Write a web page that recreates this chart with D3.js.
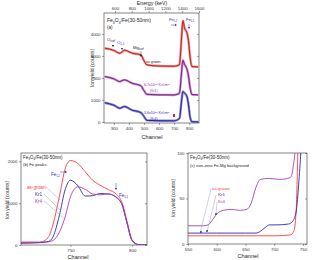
<!DOCTYPE html>
<html><head><meta charset="utf-8">
<script src="https://cdn.jsdelivr.net/npm/d3@7/dist/d3.min.js"></script>
<style>
body{margin:0;background:#fff}
svg{display:block;font-family:"Liberation Sans",Arial,sans-serif}
</style>
</head><body>
<svg id="chart" width="313" height="260"></svg>
<script>
// (a) full RBS spectra
var chA      = [240, 300, 340, 355, 370, 420, 480, 500, 520, 600, 700, 735, 750, 758, 770, 785, 795, 805, 818, 860];
var aAsGrown = [3350,3250,3120,3180,3260,3130,3040,2780,2590,2540,2530,2600,3900,4600,4250,4050,3700,3000,2520,2500];
var aKr1     = [2060,1960,1830,1880,1910,1760,1640,1420,1250,1230,1225,1300,2300,2800,2600,2400,2100,1600,1240,1230];
var aKr4     = [870, 760, 620, 660, 700, 540, 420, 250, 70,  55,  50,  150, 1000,1380,1300,1150,800, 250, 10,  0];
var tickA = [300, 400, 500, 600, 700, 800];
var tickAy = [0, 1000, 2000, 3000, 4000];
var tickEnergy = [600, 800, 1000, 1200, 1400, 1600];

// (b) Fe peaks
var chB      = [710, 725, 732, 736, 741, 746, 750, 756, 762, 768, 774, 781, 787, 792, 796, 800, 805, 812];
var bAsGrown = [40,  60,  180, 500, 1150,1850,2020,1950,1750,1550,1430,1320,1220,1000,550, 120, 10,  5];
var bKr1     = [50,  55,  80,  200, 700, 1350,1550,1420,1170,1180,1230,1220,1140,950, 500, 100, 10,  5];
var bKr4     = [70,  70,  75,  110, 300, 700, 1150,1390,1330,1220,1200,1220,1150,950, 500, 100, 10,  5];
var tickB = [750, 800];
var tickBy = [0, 1000, 2000];

// (c) background region
var chCAsGrown = [550, 600, 650, 700, 728, 734, 738, 741, 744];
var cAsGrown   = [9,   9,   9,   9,   10,  14,  35,  100, 200];
var chCKr1     = [550, 600, 650, 668, 676, 684, 692, 705, 725, 732, 738, 743, 747, 752];
var cKr1       = [12,  12,  12,  12,  14,  18,  21,  21,  22,  25,  35,  70,  110, 200];
var chCKr4     = [550, 575, 585, 592, 600, 612, 625, 640, 652, 660, 668, 676, 690, 710, 728, 733, 737, 742];
var cKr4       = [20,  20,  21,  26,  33,  37,  38,  37,  38,  45,  62,  71,  72,  71,  73,  85,  110, 200];
var tickC = [550, 600, 650, 700, 750];
var tickCy = [0, 50, 100];

var svg = d3.select("#chart");
var defs = svg.append("defs");
var clipN = 0;
var fmt = d3.format("d");

function styleAxis(a){
	a.select(".domain").remove();
	a.selectAll("text").attr("font-size", 4.4).attr("fill", "#333");
	a.selectAll("line").attr("stroke", "#444").attr("stroke-width", 0.5);
}

function panel(x0, y0, x1, y1, xDom, yDom, xt, yt){
	var x = d3.scaleLinear().domain(xDom).range([x0, x1]);
	var y = d3.scaleLinear().domain(yDom).range([y1, y0]);
	var id = "clip" + (clipN++);
	defs.append("clipPath").attr("id", id).append("rect")
		.attr("x", x0).attr("y", y0).attr("width", x1 - x0).attr("height", y1 - y0);
	var g = svg.append("g");
	styleAxis(g.append("g").attr("transform", "translate(0," + y1 + ")")
		.call(d3.axisBottom(x).tickValues(xt).tickFormat(fmt).tickSize(2).tickPadding(1.5)));
	styleAxis(g.append("g").attr("transform", "translate(" + x0 + ",0)")
		.call(d3.axisLeft(y).tickValues(yt).tickFormat(fmt).tickSize(2).tickPadding(1.5)));
	styleAxis(g.append("g").attr("transform", "translate(" + x1 + ",0)")
		.call(d3.axisRight(y).tickValues(yt).tickSize(-2).tickFormat("")));
	g.append("rect").attr("x", x0).attr("y", y0).attr("width", x1 - x0).attr("height", y1 - y0)
		.attr("fill", "none").attr("stroke", "#333").attr("stroke-width", 0.6);
	var plot = g.append("g").attr("clip-path", "url(#" + id + ")");
	return {g: g, plot: plot, x: x, y: y};
}

function curve(p, xs, ys, color, w, op){
	var line = d3.line().x(function(d){ return p.x(d[0]); }).y(function(d){ return p.y(d[1]); })
		.curve(d3.curveMonotoneX);
	p.plot.append("path").attr("d", line(d3.zip(xs, ys)))
		.attr("fill", "none").attr("stroke", color).attr("stroke-width", w).attr("opacity", op || 1);
}

// text with sub/sup parts: [["Fe"],["3","sub"],...]
function rich(x, y, parts, color, size, anchor){
	var t = svg.append("text").attr("x", x).attr("y", y).attr("fill", color)
		.attr("font-size", size).attr("text-anchor", anchor || "start");
	parts.forEach(function(pt){
		var s = t.append("tspan").text(pt[0]);
		if (pt[1] == "sub") s.attr("font-size", size * 0.7).attr("dy", size * 0.3);
		else if (pt[1] == "sup") s.attr("font-size", size * 0.7).attr("dy", -size * 0.4);
		if (pt[2]) s.attr("dy", pt[2]);
	});
	return t;
}
function fe3o4(x, y, size){
	return rich(x, y, [["Fe"], ["3", "sub"], ["O", "", -size * 0.3], ["4", "sub"], ["/Fe(30-50nm)", "", -size * 0.3]], "#222", size);
}
function seg(x1, y1, x2, y2, color, w){
	svg.append("line").attr("x1", x1).attr("y1", y1).attr("x2", x2).attr("y2", y2)
		.attr("stroke", color).attr("stroke-width", w || 0.5);
}
function arrowHead(x, y, dir, color){
	var pts = dir == "down" ? [[x - 1.2, y - 2], [x + 1.2, y - 2], [x, y]]
		: [[x - 2, y - 1.2], [x - 2, y + 1.2], [x, y]];
	svg.append("path").attr("d", "M" + pts.join("L") + "Z").attr("fill", color);
}
function yTitle(x, y, txt){
	svg.append("text").attr("transform", "translate(" + x + "," + y + ") rotate(-90)")
		.attr("text-anchor", "middle").attr("font-size", 5).attr("fill", "#333").text(txt);
}
function xTitle(x, y, txt, size){
	svg.append("text").attr("x", x).attr("y", y).attr("text-anchor", "middle")
		.attr("font-size", size || 5.6).attr("fill", "#222").text(txt);
}

// ---------- panel (a)
var pa = panel(104, 13, 199, 123, [235, 865], [-50, 4950], tickA, tickAy);
var eScale = d3.scaleLinear().domain([469, 1600]).range([104, 199]);
styleAxis(pa.g.append("g").attr("transform", "translate(0,13)")
	.call(d3.axisTop(eScale).tickValues(tickEnergy).tickFormat(fmt).tickSize(2).tickPadding(1)));
curve(pa, chA, aAsGrown, "#f07070", 2.4, 0.8);
curve(pa, chA, aAsGrown, "#b00000", 0.8);
curve(pa, chA, aKr1, "#c070c8", 2.4, 0.8);
curve(pa, chA, aKr1, "#600070", 0.8);
curve(pa, chA, aKr4, "#6a6ad8", 2.4, 0.8);
curve(pa, chA, aKr4, "#101070", 0.8);
xTitle(152, 4.6, "Energy (keV)", 5.2);
xTitle(152, 138.5, "Channel");
yTitle(94, 68, "Ion yield (counts)");
fe3o4(107, 22, 5);
rich(107, 29, [["(a)"]], "#222", 4.5);
rich(107, 41, [["O"], ["surf", "sub"]], "#222", 4.2);
arrowHead(113, 47, "down", "#222");
rich(117, 44, [["O"], ["1,1", "sub"]], "#3030c0", 4.2);
arrowHead(122, 50, "down", "#3030c0");
rich(133, 49, [["Mg"], ["surf", "sub"]], "#222", 4.2);
seg(141, 51, 141, 55, "#222");
arrowHead(141, 57, "down", "#222");
rich(146, 63, [["as grown"]], "#222", 3.6);
rich(144, 86, [["6.7x10"], ["15", "sup"], [" Kr/cm", "", 4.2 * 0.4], ["2", "sup"]], "#a030a0", 3.6);
rich(150, 92, [["(Kr1)"]], "#a030a0", 3.4);
rich(144, 114, [["3.6x10"], ["16", "sup"], [" Kr/cm", "", 4.2 * 0.4], ["2", "sup"]], "#3030c0", 3.6);
rich(150, 120, [["(Kr4)"]], "#3030c0", 3.4);
svg.append("rect").attr("x", 173).attr("y", 114).attr("width", 2).attr("height", 3).attr("fill", "#e02020");
rich(169, 21, [["Fe"], ["L2", "sub"]], "#3030c0", 4.2);
seg(171, 25, 175, 25, "#3030c0");
arrowHead(177, 25, "right", "#3030c0");
rich(186, 21, [["Fe"], ["L1", "sub"]], "#3030c0", 4.2);
seg(189, 24, 189, 27, "#3030c0");
arrowHead(189, 29, "down", "#3030c0");

// ---------- panel (b)
var pb = panel(21, 153, 147, 245, [710, 812], [0, 2200], tickB, tickBy);
curve(pb, chB, bAsGrown, "#ff3a3a", 0.9);
curve(pb, chB, bKr1, "#2828b0", 0.9);
curve(pb, chB, bKr4, "#a040c0", 0.9);
xTitle(78, 259, "Channel");
yTitle(9, 200, "Ion yield (counts)");
fe3o4(23, 159, 4.5);
rich(23, 166, [["(b) Fe peaks"]], "#222", 4.2);
rich(51, 176, [["Fe"], ["L2", "sub"]], "#3030c0", 4.6);
seg(60, 172, 65, 172, "#3030c0");
arrowHead(67, 172, "right", "#3030c0");
rich(27, 189, [["as-grown"]], "#ff3a3a", 4.6);
rich(35, 196, [["Kr1"]], "#2828b0", 4.6);
rich(35, 203, [["Kr4"]], "#a040c0", 4.6);
seg(46, 187, 60, 200, "#9aa0c0");
seg(44, 194, 61, 211, "#9aa0c0");
seg(44, 201, 66, 220, "#9aa0c0");
arrowHead(116, 190, "down", "#3030c0");
seg(116, 183, 116, 188, "#3030c0");
rich(119, 197, [["Fe"], ["L1", "sub"]], "#3030c0", 4.6);

// ---------- panel (c)
var pc = panel(188, 153, 307, 244, [550, 757], [0, 100], tickC, tickCy);
curve(pc, chCAsGrown, cAsGrown, "#ff3a3a", 0.9);
curve(pc, chCKr1, cKr1, "#2828b0", 0.9);
curve(pc, chCKr4, cKr4, "#a040c0", 0.9);
xTitle(248, 258, "Channel");
yTitle(175, 198, "Ion yield (counts)");
fe3o4(190, 159, 4.5);
rich(190, 167, [["(c) non-zero Fe-Mg background"]], "#222", 4.2);
rich(212, 190, [["as-grown"]], "#ff3a3a", 4.4);
rich(218, 196, [["Kr1"]], "#2828b0", 4.4);
rich(218, 203, [["Kr4"]], "#a040c0", 4.4);
seg(211, 189, 200, 233, "#9aa0c0");
seg(216, 195, 207, 232, "#9aa0c0");
seg(217, 202, 216, 214, "#9aa0c0");
svg.append("circle").attr("cx", 201).attr("cy", 232).attr("r", 0.9).attr("fill", "#2828b0");
svg.append("circle").attr("cx", 207).attr("cy", 231).attr("r", 0.9).attr("fill", "#2828b0");
svg.append("circle").attr("cx", 216).attr("cy", 214).attr("r", 0.9).attr("fill", "#2828b0");
</script>
</body></html>
